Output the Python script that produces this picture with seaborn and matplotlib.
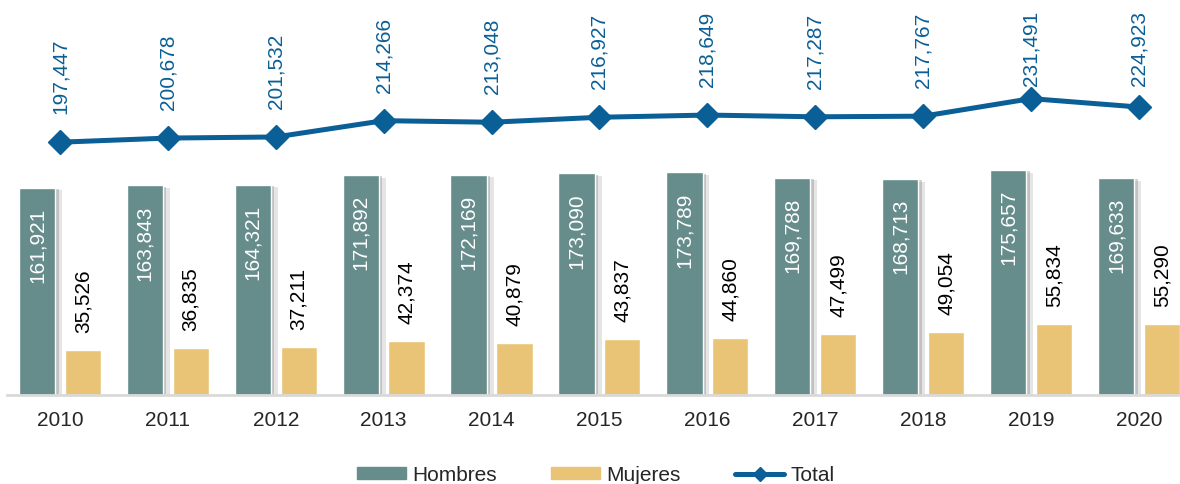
import seaborn as sns
import matplotlib.pyplot as plt
import matplotlib.patheffects as pe
from matplotlib.patches import Patch
from matplotlib.lines import Line2D
import pandas as pd

# Data
years = ["2010", "2011", "2012", "2013", "2014", "2015", "2016", "2017", "2018", "2019", "2020"]
hombres = [161921, 163843, 164321, 171892, 172169, 173090, 173789, 169788, 168713, 175657, 169633]
mujeres = [35526, 36835, 37211, 42374, 40879, 43837, 44860, 47499, 49054, 55834, 55290]
total = [197447, 200678, 201532, 214266, 213048, 216927, 218649, 217287, 217767, 231491, 224923]

c_h = "#668c8c"
c_m = "#e9c477"
c_t = "#0a5f96"

df = pd.DataFrame({"Año": years * 2,
                   "Valor": hombres + mujeres,
                   "Sexo": ["Hombres"] * len(years) + ["Mujeres"] * len(years)})

sns.set_style("white")
plt.rcParams["font.family"] = ["Liberation Sans", "DejaVu Sans"]

fig = plt.figure(figsize=(11.8, 4.85), dpi=100)
ax = fig.add_axes([7 / 1180, 89 / 485, 1173 / 1180, 396 / 485])

sns.barplot(data=df, x="Año", y="Valor", hue="Sexo", palette=[c_h, c_m],
            width=0.85, gap=0.21, ax=ax, legend=False, saturation=1)

# soft shadow on the Hombres bars
for bar in ax.containers[0]:
    bar.set_path_effects([pe.SimplePatchShadow(offset=(5, -2), shadow_rgbFace="#9a9a9a", alpha=0.25),
                          pe.SimplePatchShadow(offset=(2.5, -1), shadow_rgbFace="#808080", alpha=0.35),
                          pe.Normal()])

ax.plot(range(len(years)), total, color=c_t, lw=3.6, marker="D", markersize=12.5, zorder=5)

for i, v in enumerate(hombres):
    ax.annotate(f"{v:,}", (i - 0.2125, v), xytext=(0, -19), textcoords="offset pixels",
                rotation=90, ha="center", va="top", color="white", fontsize=15)
for i, v in enumerate(mujeres):
    ax.annotate(f"{v:,}", (i + 0.2125, v), xytext=(0, 18), textcoords="offset pixels",
                rotation=90, ha="center", va="bottom", color="black", fontsize=15)
tot_labels = []
for i, v in enumerate(total):
    t = ax.annotate(f"{v:,}", (i, v), xytext=(0, 29), textcoords="offset pixels",
                    rotation=90, ha="center", va="bottom", color=c_t, fontsize=15)
    tot_labels.append(t)

ax.set_xlim(-0.49, 10.38)
ax.set_ylim(0, 309300)
ax.set_xlabel("")
ax.set_ylabel("")
ax.set_yticks([])
for s in ["top", "right", "left"]:
    ax.spines[s].set_visible(False)
ax.spines["bottom"].set_color("#d9d9d9")
ax.spines["bottom"].set_linewidth(2)
ax.tick_params(axis="x", length=0, pad=11, labelsize=15)

handles = [Patch(color=c_h, label="Hombres"),
           Patch(color=c_m, label="Mujeres"),
           Line2D([], [], color=c_t, lw=3.6, marker="D", markersize=7, label="Total")]
fig.legend(handles=handles, loc="center", bbox_to_anchor=(596 / 1180, 1 - 476 / 485),
           ncol=3, frameon=False, fontsize=15, handlelength=2.35, handleheight=0.55,
           handletextpad=0.3, columnspacing=2.6, borderpad=0)

# keep total labels inside the top of the chart, like the original
fig.canvas.draw()
renderer = fig.canvas.get_renderer()
top_limit = fig.bbox.height - 11
for t in tot_labels:
    bb = t.get_window_extent(renderer)
    if bb.y1 > top_limit:
        dx, dy = t.xyann
        t.xyann = (dx, dy - (bb.y1 - top_limit))

plt.savefig("out.png", dpi=100)
